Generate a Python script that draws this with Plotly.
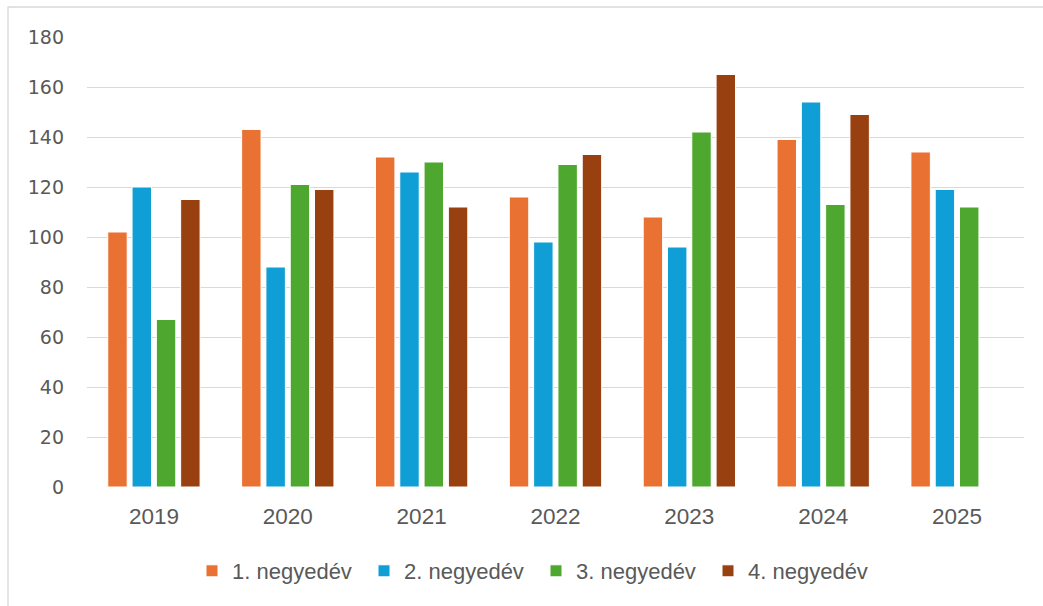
import plotly.graph_objects as go

# Quarterly values per year
years = ["2019", "2020", "2021", "2022", "2023", "2024", "2025"]
q1 = [102, 143, 132, 116, 108, 139, 134]
q2 = [120, 88, 126, 98, 96, 154, 119]
q3 = [67, 121, 130, 129, 142, 113, 112]
q4 = [115, 119, 112, 133, 165, 149, None]

series_names = ["1. negyedév", "2. negyedév", "3. negyedév", "4. negyedév"]
series_values = [q1, q2, q3, q4]
colors = ["#E97132", "#0F9ED5", "#4EA72E", "#994010"]

y_ticks = [0, 20, 40, 60, 80, 100, 120, 140, 160, 180]

fig = go.Figure()
for name, vals, col in zip(series_names, series_values, colors):
    fig.add_trace(go.Bar(
        x=years, y=vals, name=name,
        marker=dict(color=col, line=dict(color="white", width=1)),
    ))

W, H = 1043, 606
L, R, T, B = 87, 19, 37, 119
pw, ph = W - L - R, H - T - B

def px_x(p):
    return (p - L) / pw

def px_y(p):
    return (H - B - p) / ph

fig.update_layout(
    width=W, height=H,
    margin=dict(l=L, r=R, t=T, b=B),
    paper_bgcolor="white", plot_bgcolor="white",
    barmode="group", bargap=0.274, bargroupgap=0.2,
    font=dict(family="Liberation Sans", color="#595959"),
    showlegend=True,
    legend=dict(
        orientation="h", x=px_x(536), xanchor="center",
        y=px_y(571), yanchor="middle",
        font=dict(family="Liberation Sans", size=22, color="#595959"),
        entrywidth=127, entrywidthmode="pixels",
        traceorder="normal",
    ),
    xaxis=dict(
        showgrid=False, showline=False, zeroline=False,
        tickfont=dict(family="Liberation Sans", size=22.5, color="#595959"),
        ticks="", ticklabelstandoff=13,
    ),
    yaxis=dict(
        range=[0, 180], tickvals=y_ticks, showgrid=True,
        gridcolor="#D9D9D9", gridwidth=1.3, zeroline=False, showline=False,
        tickfont=dict(family="DejaVu Sans", size=19, color="#595959"),
        ticks="", ticklabelstandoff=22,
    ),
    shapes=[dict(
        type="rect", xref="paper", yref="paper",
        x0=px_x(8), x1=px_x(1060), y0=px_y(640), y1=px_y(7),
        line=dict(color="#D9D9D9", width=1.3), fillcolor="rgba(0,0,0,0)",
        layer="below",
    )],
)

fig.write_html("out.html")
